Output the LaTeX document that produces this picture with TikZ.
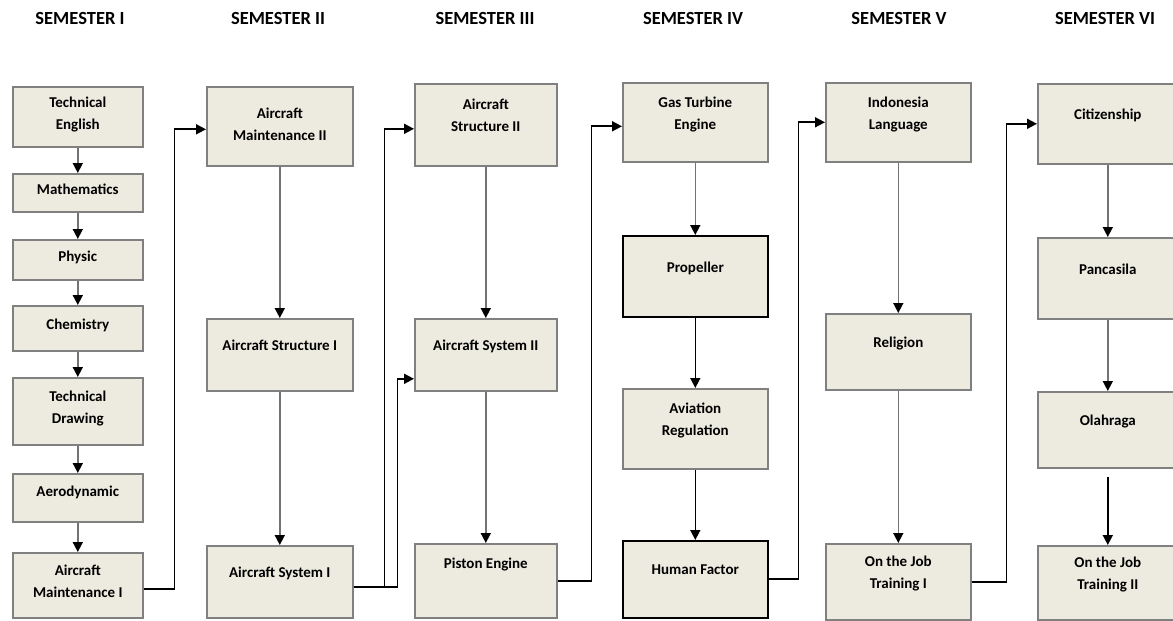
\documentclass[tikz,border=0pt]{standalone}
\usepackage{fontspec}
\setmainfont{Carlito}
\usetikzlibrary{arrows.meta}
\definecolor{boxfill}{RGB}{237,235,224}
\definecolor{boxline}{RGB}{128,128,128}
\definecolor{linkgray}{RGB}{115,115,115}
\tikzset{
  course/.style={draw=boxline, fill=boxfill, line width=1.6pt, anchor=north west, align=center, inner sep=0pt, text depth=19pt, font=\bfseries\fontsize{15}{22}\selectfont},
  first/.style={course, minimum width=130pt, text depth=8pt},
  heading/.style={font=\bfseries\fontsize{18.5}{22}\selectfont},
  flow/.style={line width=1.6pt, draw=linkgray, -{Triangle[length=10pt,width=10pt,color=black]}},
  link/.style={line width=1.7pt, -{Triangle[length=10pt,width=10pt]}}
}
\begin{document}
\begin{tikzpicture}[x=1pt, y=-1pt]
    \useasboundingbox (0,0) rectangle (1173,621);
    \node[heading] (s1) at (80,18) {SEMESTER I};
    \node[heading] (s2) at (278,18) {SEMESTER II};
    \node[heading] (s3) at (485,18) {SEMESTER III};
    \node[heading] (s4) at (693,18) {SEMESTER IV};
    \node[heading] (s5) at (899,18) {SEMESTER V};
    \node[heading] (s6) at (1105,18) {SEMESTER VI};

    \node[first, minimum height=60pt] (te) at (12,86) {Technical\\English};
    \node[first, minimum height=38pt] (math) at (12,173) {Mathematics};
    \node[first, minimum height=40pt] (phys) at (12,239) {Physic};
    \node[first, minimum height=45pt] (chem) at (12,305) {Chemistry};
    \node[first, minimum height=67pt] (td) at (12,377) {Technical\\Drawing};
    \node[first, minimum height=48pt, text depth=14pt] (aero) at (12,473) {Aerodynamic};
    \node[first, minimum height=65pt] (am1) at (12,552) {Aircraft\\Maintenance I};

    \node[course, minimum width=146pt, minimum height=79pt, text depth=4pt] (am2) at (206,86) {Aircraft\\Maintenance II};
    \node[course, minimum width=146pt, minimum height=72pt] (as1) at (206,318) {Aircraft Structure I};
    \node[course, minimum width=146pt, minimum height=72pt] (asys1) at (206,545) {Aircraft System I};

    \node[course, minimum width=142pt, minimum height=82pt] (as2) at (414,83) {Aircraft\\Structure II};
    \node[course, minimum width=142pt, minimum height=72pt] (asys2) at (414,318) {Aircraft System II};
    \node[course, minimum width=142pt, minimum height=74pt, text depth=36pt] (pe) at (414,543) {Piston Engine};

    \node[course, minimum width=145pt, minimum height=79pt] (gte) at (622,82) {Gas Turbine\\Engine};
    \node[course, minimum width=145pt, minimum height=81pt, draw=black] (prop) at (622,235) {Propeller};
    \node[course, minimum width=145pt, minimum height=80pt] (ar) at (622,388) {Aviation\\Regulation};
    \node[course, minimum width=145pt, minimum height=77pt, draw=black] (hf) at (622,540) {Human Factor};

    \node[course, minimum width=145pt, minimum height=79pt] (il) at (825,82) {Indonesia\\Language};
    \node[course, minimum width=145pt, minimum height=76pt] (rel) at (825,313) {Religion};
    \node[course, minimum width=145pt, minimum height=76pt] (ojt1) at (825,543) {On the Job\\Training I};

    \node[course, minimum width=140pt, minimum height=80pt] (cit) at (1037,83) {Citizenship};
    \node[course, minimum width=140pt, minimum height=81pt] (pan) at (1037,237) {Pancasila};
    \node[course, minimum width=140pt, minimum height=76pt] (ola) at (1037,391) {Olahraga};
    \node[course, minimum width=140pt, minimum height=74pt] (ojt2) at (1037,545) {On the Job\\Training II};

    \draw[flow] (te) -- (math);
    \draw[flow] (math) -- (phys);
    \draw[flow] (phys) -- (chem);
    \draw[flow] (chem) -- (td);
    \draw[flow] (td) -- (aero);
    \draw[flow] (aero) -- (am1);
    \draw[flow] (am2) -- (as1);
    \draw[flow] (as1) -- (asys1);
    \draw[flow] (as2) -- (asys2);
    \draw[flow] (asys2) -- (pe);
    \draw[flow] (gte) -- (prop);
    \draw[flow, draw=black] (prop) -- (ar);
    \draw[flow, draw=black] (ar) -- (hf);
    \draw[flow] (il) -- (rel);
    \draw[flow] (rel) -- (ojt1);
    \draw[flow] (cit) -- (pan);
    \draw[flow] (pan) -- (ola);
    \draw[flow, draw=black, shorten <=8pt] (ola) -- (ojt2);

    \draw[link] ([yshift=-4pt]am1.east) -- ++(31,0) |- ([yshift=-3pt]am2.west);
    \draw[link] ([yshift=-5pt]asys1.east) -- ++(31,0) |- ([yshift=-4pt]as2.west);
    \draw[link] ([yshift=-5pt]asys1.east) -- ++(44,0) |- ([yshift=-24pt]asys2.west);
    \draw[link] (pe.east) -- ++(34,0) |- ([yshift=-4pt]gte.west);
    \draw[link] (hf.east) -- ++(30,0) |- (il.west);
    \draw[link] (ojt1.east) -- ++(35,0) |- (cit.west);
\end{tikzpicture}
\end{document}
